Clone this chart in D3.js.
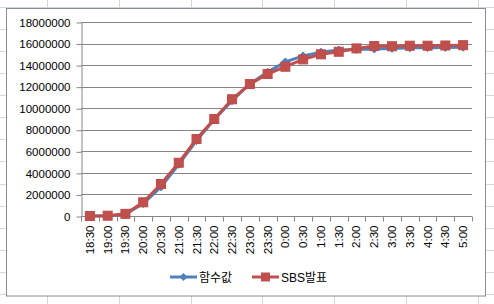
<!DOCTYPE html>
<html>
<head>
<meta charset="utf-8">
<script src="https://cdn.jsdelivr.net/npm/d3@7"></script>
<style>
  body { margin: 0; background: #fff; }
  svg { display: block; font-family: "Liberation Sans", Arial, "Noto Sans CJK KR", sans-serif; }
</style>
</head>
<body>
<div id="chart"></div>
<script>
// time slots on the x axis
const categories = ["18:30","19:00","19:30","20:00","20:30","21:00","21:30","22:00","22:30","23:00","23:30",
                    "0:00","0:30","1:00","1:30","2:00","2:30","3:00","3:30","4:00","4:30","5:00"];

// 함수값 (fitted function)
const funcValues = [0, 0, 150000, 1150000, 2700000, 4800000, 7000000, 8950000, 10700000, 12250000, 13350000,
                    14300000, 14850000, 15200000, 15400000, 15450000, 15500000, 15550000, 15600000, 15620000, 15640000, 15650000];

// SBS발표 (announced)
const sbsValues = [0, 30000, 200000, 1270000, 2970000, 4940000, 7140000, 9000000, 10830000, 12240000, 13170000,
                   13850000, 14530000, 15000000, 15240000, 15550000, 15770000, 15750000, 15800000, 15800000, 15820000, 15850000];

const yTicks = [0, 2000000, 4000000, 6000000, 8000000, 10000000, 12000000, 14000000, 16000000, 18000000];

const seriesNames = ["함수값", "SBS발표"];

const width = 494, height = 304;

const svg = d3.select("#chart")
    .append("svg")
    .attr("width", width)
    .attr("height", height);

// spreadsheet grid behind the chart
const sheet = svg.append("g").attr("class", "sheet");
sheet.selectAll(".col")
    .data(d3.range(-25.2, width, 71.9))
    .join("line")
    .attr("x1", d => Math.round(d) + 0.5).attr("x2", d => Math.round(d) + 0.5)
    .attr("y1", 0).attr("y2", height)
    .attr("stroke", "#d0d7e5");
sheet.selectAll(".row")
    .data(d3.range(6.9, height, 22.08))
    .join("line")
    .attr("y1", d => Math.round(d) + 0.5).attr("y2", d => Math.round(d) + 0.5)
    .attr("x1", 0).attr("x2", width)
    .attr("stroke", "#d0d7e5");

// chart box
svg.append("rect")
    .attr("x", 6.5).attr("y", 8.5)
    .attr("width", 479).attr("height", 287.5)
    .attr("fill", "#fff")
    .attr("stroke", "#8c8c8c");

const xScale = d3.scaleBand().domain(categories).range([81, 472]);
const yScale = d3.scaleLinear().domain([0, 18000000]).range([216, 22]);

// horizontal gridlines
svg.append("g")
    .selectAll("line")
    .data(yTicks.slice(1))
    .join("line")
    .attr("x1", 81).attr("x2", 472)
    .attr("y1", d => Math.round(yScale(d)) + 0.5)
    .attr("y2", d => Math.round(yScale(d)) + 0.5)
    .attr("stroke", "#868686");

// y axis
const yAxis = svg.append("g")
    .attr("transform", "translate(81.5,0.5)")
    .call(d3.axisLeft(yScale).tickValues(yTicks).tickFormat(d3.format("d")).tickSize(5).tickPadding(6).tickSizeOuter(0));
yAxis.select(".domain").attr("stroke", "#868686");
yAxis.selectAll(".tick line").attr("stroke", "#868686");
yAxis.selectAll("text")
    .attr("fill", "#000")
    .style("font-size", "11.5px");

// x axis
const xAxis = svg.append("g").attr("transform", `translate(0,${Math.round(yScale(0)) + 0.5})`);
xAxis.append("line")
    .attr("x1", 81).attr("x2", 472)
    .attr("stroke", "#868686");
xAxis.selectAll(".xtick")
    .data(d3.range(categories.length + 1))
    .join("line")
    .attr("x1", i => Math.round(81 + i * xScale.step()) + 0.5)
    .attr("x2", i => Math.round(81 + i * xScale.step()) + 0.5)
    .attr("y1", 0).attr("y2", 5)
    .attr("stroke", "#868686");
xAxis.selectAll(".xlabel")
    .data(categories)
    .join("text")
    .attr("transform", d => `translate(${xScale(d) + xScale.bandwidth() / 2 + 4},9) rotate(-90)`)
    .attr("text-anchor", "end")
    .style("font-size", "11.5px")
    .attr("fill", "#000")
    .text(d => d);

const line = d3.line()
    .x((d, i) => xScale(categories[i]) + xScale.bandwidth() / 2)
    .y(d => yScale(d));

// 함수값 series
svg.append("path")
    .datum(funcValues)
    .attr("d", line)
    .attr("fill", "none")
    .attr("stroke", "#4f81bd")
    .attr("stroke-width", 3);
svg.append("g")
    .selectAll("path")
    .data(funcValues)
    .join("path")
    .attr("transform", (d, i) => `translate(${xScale(categories[i]) + xScale.bandwidth() / 2},${yScale(d)})`)
    .attr("d", d3.symbol(d3.symbolDiamond2, 40))
    .attr("fill", "#4f81bd")
    .attr("stroke", "#4a7ebb");

// SBS발표 series
svg.append("path")
    .datum(sbsValues)
    .attr("d", line)
    .attr("fill", "none")
    .attr("stroke", "#c0504d")
    .attr("stroke-width", 3);
svg.append("g")
    .selectAll("rect")
    .data(sbsValues)
    .join("rect")
    .attr("x", (d, i) => xScale(categories[i]) + xScale.bandwidth() / 2 - 4.5)
    .attr("y", d => yScale(d) - 4.5)
    .attr("width", 9).attr("height", 9)
    .attr("fill", "#c0504d")
    .attr("stroke", "#be4b48");

// legend
const legend = svg.append("g").attr("transform", "translate(0,277)");
const legendItems = [
  {name: seriesNames[0], x: 170, color: "#4f81bd", shape: "diamond"},
  {name: seriesNames[1], x: 252, color: "#c0504d", shape: "square"}
];
legendItems.forEach(it => {
  legend.append("line")
      .attr("x1", it.x).attr("x2", it.x + 27)
      .attr("stroke", it.color).attr("stroke-width", 3);
  if (it.shape === "diamond") {
    legend.append("path")
        .attr("transform", `translate(${it.x + 13.5},0)`)
        .attr("d", d3.symbol(d3.symbolDiamond2, 40))
        .attr("fill", it.color);
  } else {
    legend.append("rect")
        .attr("x", it.x + 9).attr("y", -4.5)
        .attr("width", 9).attr("height", 9)
        .attr("fill", it.color);
  }
  legend.append("text")
      .attr("x", it.x + 29).attr("y", 5)
      .style("font-size", "12px")
      .attr("fill", "#000")
      .text(it.name);
});
</script>
</body>
</html>
